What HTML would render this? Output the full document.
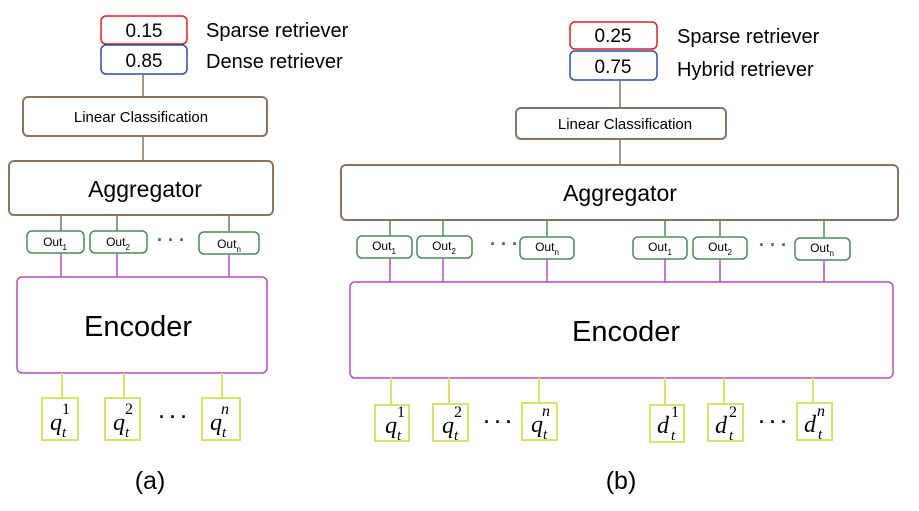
<!DOCTYPE html>
<html><head><meta charset="utf-8"><style>html,body{margin:0;padding:0;background:#fff}svg{display:block}</style></head><body>
<svg width="919" height="511" viewBox="0 0 919 511" xmlns="http://www.w3.org/2000/svg" font-family="Liberation Sans, sans-serif">
<rect width="919" height="511" fill="#fff"/>
<g fill="none" stroke-width="1.5">
<rect x="101" y="16" width="86" height="28" rx="5" stroke="#e02020"/>
<rect x="101" y="45" width="86" height="29" rx="5" stroke="#2f4f9f"/>
<line x1="143" y1="74" x2="143" y2="97" stroke="#8b7560"/>
<rect x="23" y="97" width="244" height="39" rx="5" stroke="#8b7560" stroke-width="2"/>
<line x1="143" y1="136" x2="143" y2="161" stroke="#8b7560"/>
<rect x="9" y="161" width="264" height="54" rx="5" stroke="#8b7560" stroke-width="2"/>
<g stroke="#4a8a5a"><line x1="61" y1="215" x2="61" y2="231"/><line x1="117" y1="215" x2="117" y2="231"/><line x1="229" y1="215" x2="229" y2="231"/>
<rect x="27" y="231" width="57" height="22" rx="5"/><rect x="90" y="231" width="57" height="22" rx="5"/><rect x="199" y="232" width="60" height="22" rx="5"/></g>
<g stroke="#b050c0"><line x1="61" y1="253" x2="61" y2="277"/><line x1="117" y1="253" x2="117" y2="277"/><line x1="229" y1="254" x2="229" y2="277"/>
<rect x="17" y="277" width="250" height="96" rx="5"/></g>
<g stroke="#d8e070" stroke-width="2"><line x1="62" y1="373" x2="62" y2="398"/><line x1="124" y1="373" x2="124" y2="398"/><line x1="222" y1="373" x2="222" y2="398"/>
<rect x="42" y="398" width="36" height="42"/><rect x="105" y="398" width="35" height="42"/><rect x="202" y="398" width="38" height="42"/></g>
<rect x="570" y="22" width="87" height="27" rx="5" stroke="#e02020"/>
<rect x="570" y="51" width="87" height="29" rx="5" stroke="#2f4f9f"/>
<line x1="620" y1="80" x2="620" y2="108" stroke="#8b7560"/>
<rect x="516" y="108" width="210" height="31" rx="5" stroke="#8b7560" stroke-width="2"/>
<line x1="620" y1="139" x2="620" y2="165" stroke="#8b7560"/>
<rect x="341" y="165" width="557" height="55" rx="5" stroke="#8b7560" stroke-width="2"/>
<g stroke="#4a8a5a">
<line x1="390" y1="220" x2="390" y2="236"/><line x1="443" y1="220" x2="443" y2="236"/><line x1="547" y1="220" x2="547" y2="236"/><line x1="665" y1="220" x2="665" y2="236"/><line x1="720" y1="220" x2="720" y2="236"/><line x1="824" y1="220" x2="824" y2="237"/>
<rect x="357" y="236" width="55" height="22" rx="5"/><rect x="417" y="236" width="55" height="22" rx="5"/><rect x="520" y="237" width="54" height="22" rx="5"/><rect x="633" y="237" width="54" height="22" rx="5"/><rect x="693" y="237" width="54" height="22" rx="5"/><rect x="795" y="238" width="55" height="22" rx="5"/></g>
<g stroke="#b050c0">
<line x1="390" y1="258" x2="390" y2="282"/><line x1="443" y1="258" x2="443" y2="282"/><line x1="547" y1="259" x2="547" y2="282"/><line x1="665" y1="259" x2="665" y2="282"/><line x1="720" y1="259" x2="720" y2="282"/><line x1="824" y1="260" x2="824" y2="282"/>
<rect x="350" y="282" width="543" height="96" rx="5"/></g>
<g stroke="#d8e070" stroke-width="2">
<line x1="391" y1="378" x2="391" y2="405"/><line x1="449" y1="378" x2="449" y2="405"/><line x1="539" y1="378" x2="539" y2="404"/><line x1="665" y1="378" x2="665" y2="405"/><line x1="724" y1="378" x2="724" y2="405"/><line x1="813" y1="378" x2="813" y2="404"/>
<rect x="375" y="405" width="34" height="36"/><rect x="433" y="404" width="35" height="37"/><rect x="522" y="403" width="35" height="37"/><rect x="650" y="405" width="34" height="37"/><rect x="708" y="404" width="35" height="37"/><rect x="797" y="403" width="35" height="37"/></g>
</g>
<g fill="#000">
<g font-size="19" text-anchor="middle"><text x="144" y="37">0.15</text><text x="144" y="67">0.85</text><text x="613" y="42">0.25</text><text x="613" y="73">0.75</text></g>
<g font-size="20"><text x="206" y="37">Sparse retriever</text><text x="206" y="68">Dense retriever</text><text x="677" y="43">Sparse retriever</text><text x="677" y="76">Hybrid retriever</text></g>
<g font-size="15" text-anchor="middle"><text x="141" y="122">Linear Classification</text><text x="625" y="129">Linear Classification</text></g>
<g font-size="23" text-anchor="middle"><text x="145" y="197">Aggregator</text><text x="620" y="201">Aggregator</text></g>
<g font-size="29" text-anchor="middle"><text x="138" y="336">Encoder</text><text x="626" y="341">Encoder</text></g>
<g font-size="12" text-anchor="middle">
<text x="55" y="246">Out<tspan font-size="8" dy="4">1</tspan></text><text x="118" y="246">Out<tspan font-size="8" dy="4">2</tspan></text><text x="229" y="248">Out<tspan font-size="8" dy="4">n</tspan></text>
<text x="384" y="250">Out<tspan font-size="8" dy="4">1</tspan></text><text x="444" y="250">Out<tspan font-size="8" dy="4">2</tspan></text><text x="547" y="251">Out<tspan font-size="8" dy="4">n</tspan></text>
<text x="660" y="251">Out<tspan font-size="8" dy="4">1</tspan></text><text x="720" y="251">Out<tspan font-size="8" dy="4">2</tspan></text><text x="822" y="252">Out<tspan font-size="8" dy="4">n</tspan></text></g>
<g font-size="18" font-weight="bold" fill="#3a6a4a" text-anchor="middle"><text x="171" y="246">· · ·</text><text x="504" y="250">· · ·</text><text x="773" y="251">· · ·</text></g>
<g font-size="18" font-weight="bold" text-anchor="middle"><text x="173" y="423">· · ·</text><text x="498" y="428">· · ·</text><text x="773" y="428">· · ·</text></g>
<g font-family="Liberation Serif, serif" font-style="italic" font-size="24">
<text x="50" y="430">q</text><text x="113" y="430">q</text><text x="210" y="430">q</text>
<text x="385" y="433">q</text><text x="442" y="433">q</text><text x="531" y="432">q</text>
<text x="657" y="433">d</text><text x="715" y="433">d</text><text x="804" y="432">d</text>
<g font-size="15"><text x="62" y="437">t</text><text x="125" y="437">t</text><text x="222" y="437">t</text><text x="397" y="440">t</text><text x="454" y="440">t</text><text x="543" y="439">t</text><text x="671" y="440">t</text><text x="729" y="440">t</text><text x="818" y="439">t</text></g>
<g font-size="16" font-style="normal"><text x="62" y="414">1</text><text x="125" y="414">2</text><text x="221" y="414" font-style="italic">n</text><text x="397" y="417">1</text><text x="454" y="417">2</text><text x="542" y="416" font-style="italic">n</text><text x="671" y="417">1</text><text x="729" y="417">2</text><text x="817" y="416" font-style="italic">n</text></g>
</g>
<g font-size="25" text-anchor="middle"><text x="150" y="489">(a)</text><text x="621" y="489">(b)</text></g>
</g>
</svg>
</body></html>
